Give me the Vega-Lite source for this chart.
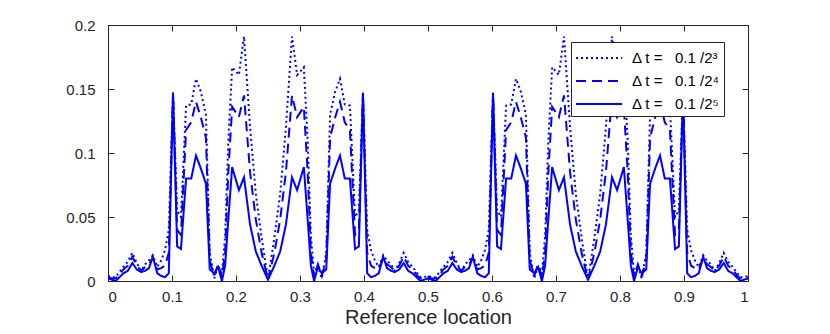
{
 "$schema": "https://vega.github.io/schema/vega-lite/v6.json",
 "width": 640, "height": 256,
 "autosize": {"type": "none"},
 "padding": {"left": 108, "top": 25, "right": 82, "bottom": 53},
 "background": "white",
 "config": {
  "view": {"stroke": "#262626", "strokeWidth": 1},
  "axis": {"labelFont": "Liberation Sans", "titleFont": "Liberation Sans", "labelFontSize": 15, "labelColor": "#262626", "titleColor": "#262626", "domainColor": "#262626", "tickColor": "#262626", "grid": false, "tickSize": -6, "titleFontWeight": "normal"}
 },
 "data": {"values": [
  {"x":0.000,"dt5":0.002,"dt4":0.003,"dt3":0.004},
  {"x":0.006,"dt5":0.001,"dt4":0.002,"dt3":0.003},
  {"x":0.012,"dt5":0.000,"dt4":0.002,"dt3":0.003},
  {"x":0.018,"dt5":0.003,"dt4":0.005,"dt3":0.007},
  {"x":0.024,"dt5":0.006,"dt4":0.009,"dt3":0.011},
  {"x":0.031,"dt5":0.008,"dt4":0.012,"dt3":0.015},
  {"x":0.038,"dt5":0.014,"dt4":0.019,"dt3":0.022},
  {"x":0.045,"dt5":0.009,"dt4":0.012,"dt3":0.014},
  {"x":0.052,"dt5":0.007,"dt4":0.008,"dt3":0.008},
  {"x":0.058,"dt5":0.008,"dt4":0.011,"dt3":0.013},
  {"x":0.064,"dt5":0.010,"dt4":0.013,"dt3":0.016},
  {"x":0.070,"dt5":0.019,"dt4":0.018,"dt3":0.020},
  {"x":0.077,"dt5":0.006,"dt4":0.009,"dt3":0.011},
  {"x":0.083,"dt5":0.004,"dt4":0.010,"dt3":0.016},
  {"x":0.089,"dt5":0.003,"dt4":0.012,"dt3":0.024},
  {"x":0.095,"dt5":0.006,"dt4":0.022,"dt3":0.040},
  {"x":0.1016,"dt5":0.147,"dt4":0.147,"dt3":0.147},
  {"x":0.108,"dt5":0.027,"dt4":0.040,"dt3":0.055},
  {"x":0.114,"dt5":0.025,"dt4":0.036,"dt3":0.050},
  {"x":0.122,"dt5":0.080,"dt4":0.118,"dt3":0.137},
  {"x":0.130,"dt5":0.080,"dt4":0.124,"dt3":0.138},
  {"x":0.1375,"dt5":0.098,"dt4":0.140,"dt3":0.158},
  {"x":0.145,"dt5":0.088,"dt4":0.128,"dt3":0.148},
  {"x":0.153,"dt5":0.076,"dt4":0.112,"dt3":0.130},
  {"x":0.159,"dt5":0.009,"dt4":0.016,"dt3":0.022},
  {"x":0.166,"dt5":0.006,"dt4":0.004,"dt3":0.002},
  {"x":0.172,"dt5":0.011,"dt4":0.013,"dt3":0.012},
  {"x":0.178,"dt5":0.000,"dt4":0.003,"dt3":0.006},
  {"x":0.183,"dt5":0.012,"dt4":0.022,"dt3":0.035},
  {"x":0.188,"dt5":0.048,"dt4":0.085,"dt3":0.110},
  {"x":0.194,"dt5":0.089,"dt4":0.136,"dt3":0.167},
  {"x":0.2045,"dt5":0.071,"dt4":0.128,"dt3":0.161},
  {"x":0.2125,"dt5":0.081,"dt4":0.145,"dt3":0.191},
  {"x":0.222,"dt5":0.044,"dt4":0.085,"dt3":0.120},
  {"x":0.231,"dt5":0.023,"dt4":0.048,"dt3":0.068},
  {"x":0.240,"dt5":0.012,"dt4":0.022,"dt3":0.034},
  {"x":0.250,"dt5":0.001,"dt4":0.001,"dt3":0.001},
  {"x":0.260,"dt5":0.012,"dt4":0.022,"dt3":0.034},
  {"x":0.269,"dt5":0.023,"dt4":0.048,"dt3":0.068},
  {"x":0.278,"dt5":0.044,"dt4":0.085,"dt3":0.120},
  {"x":0.2875,"dt5":0.081,"dt4":0.145,"dt3":0.191},
  {"x":0.2955,"dt5":0.071,"dt4":0.128,"dt3":0.161},
  {"x":0.306,"dt5":0.089,"dt4":0.136,"dt3":0.167},
  {"x":0.312,"dt5":0.048,"dt4":0.085,"dt3":0.110},
  {"x":0.317,"dt5":0.012,"dt4":0.022,"dt3":0.035},
  {"x":0.322,"dt5":0.000,"dt4":0.003,"dt3":0.006},
  {"x":0.328,"dt5":0.011,"dt4":0.013,"dt3":0.012},
  {"x":0.334,"dt5":0.006,"dt4":0.004,"dt3":0.002},
  {"x":0.341,"dt5":0.009,"dt4":0.016,"dt3":0.022},
  {"x":0.347,"dt5":0.076,"dt4":0.112,"dt3":0.130},
  {"x":0.355,"dt5":0.088,"dt4":0.128,"dt3":0.148},
  {"x":0.3625,"dt5":0.098,"dt4":0.140,"dt3":0.158},
  {"x":0.370,"dt5":0.080,"dt4":0.124,"dt3":0.138},
  {"x":0.378,"dt5":0.080,"dt4":0.118,"dt3":0.137},
  {"x":0.386,"dt5":0.025,"dt4":0.036,"dt3":0.050},
  {"x":0.392,"dt5":0.027,"dt4":0.040,"dt3":0.055},
  {"x":0.3984,"dt5":0.147,"dt4":0.147,"dt3":0.147},
  {"x":0.405,"dt5":0.006,"dt4":0.022,"dt3":0.040},
  {"x":0.411,"dt5":0.003,"dt4":0.012,"dt3":0.024},
  {"x":0.417,"dt5":0.004,"dt4":0.010,"dt3":0.016},
  {"x":0.423,"dt5":0.006,"dt4":0.009,"dt3":0.011},
  {"x":0.430,"dt5":0.019,"dt4":0.018,"dt3":0.020},
  {"x":0.436,"dt5":0.010,"dt4":0.013,"dt3":0.016},
  {"x":0.442,"dt5":0.008,"dt4":0.011,"dt3":0.013},
  {"x":0.448,"dt5":0.007,"dt4":0.008,"dt3":0.008},
  {"x":0.455,"dt5":0.009,"dt4":0.012,"dt3":0.014},
  {"x":0.462,"dt5":0.014,"dt4":0.019,"dt3":0.022},
  {"x":0.469,"dt5":0.008,"dt4":0.012,"dt3":0.015},
  {"x":0.476,"dt5":0.006,"dt4":0.009,"dt3":0.011},
  {"x":0.482,"dt5":0.003,"dt4":0.005,"dt3":0.007},
  {"x":0.488,"dt5":0.000,"dt4":0.002,"dt3":0.003},
  {"x":0.494,"dt5":0.001,"dt4":0.002,"dt3":0.003},
  {"x":0.500,"dt5":0.002,"dt4":0.003,"dt3":0.004},
  {"x":0.506,"dt5":0.001,"dt4":0.002,"dt3":0.003},
  {"x":0.512,"dt5":0.000,"dt4":0.002,"dt3":0.003},
  {"x":0.518,"dt5":0.003,"dt4":0.005,"dt3":0.007},
  {"x":0.524,"dt5":0.006,"dt4":0.009,"dt3":0.011},
  {"x":0.531,"dt5":0.008,"dt4":0.012,"dt3":0.015},
  {"x":0.538,"dt5":0.014,"dt4":0.019,"dt3":0.022},
  {"x":0.545,"dt5":0.009,"dt4":0.012,"dt3":0.014},
  {"x":0.552,"dt5":0.007,"dt4":0.008,"dt3":0.008},
  {"x":0.558,"dt5":0.008,"dt4":0.011,"dt3":0.013},
  {"x":0.564,"dt5":0.010,"dt4":0.013,"dt3":0.016},
  {"x":0.570,"dt5":0.019,"dt4":0.018,"dt3":0.020},
  {"x":0.577,"dt5":0.006,"dt4":0.009,"dt3":0.011},
  {"x":0.583,"dt5":0.004,"dt4":0.010,"dt3":0.016},
  {"x":0.589,"dt5":0.003,"dt4":0.012,"dt3":0.024},
  {"x":0.595,"dt5":0.006,"dt4":0.022,"dt3":0.040},
  {"x":0.6016,"dt5":0.147,"dt4":0.147,"dt3":0.147},
  {"x":0.608,"dt5":0.027,"dt4":0.040,"dt3":0.055},
  {"x":0.614,"dt5":0.025,"dt4":0.036,"dt3":0.050},
  {"x":0.622,"dt5":0.080,"dt4":0.118,"dt3":0.137},
  {"x":0.630,"dt5":0.080,"dt4":0.124,"dt3":0.138},
  {"x":0.6375,"dt5":0.098,"dt4":0.140,"dt3":0.158},
  {"x":0.645,"dt5":0.088,"dt4":0.128,"dt3":0.148},
  {"x":0.653,"dt5":0.076,"dt4":0.112,"dt3":0.130},
  {"x":0.659,"dt5":0.009,"dt4":0.016,"dt3":0.022},
  {"x":0.666,"dt5":0.006,"dt4":0.004,"dt3":0.002},
  {"x":0.672,"dt5":0.011,"dt4":0.013,"dt3":0.012},
  {"x":0.678,"dt5":0.000,"dt4":0.003,"dt3":0.006},
  {"x":0.683,"dt5":0.012,"dt4":0.022,"dt3":0.035},
  {"x":0.688,"dt5":0.048,"dt4":0.085,"dt3":0.110},
  {"x":0.694,"dt5":0.089,"dt4":0.136,"dt3":0.167},
  {"x":0.7045,"dt5":0.071,"dt4":0.128,"dt3":0.161},
  {"x":0.7125,"dt5":0.081,"dt4":0.145,"dt3":0.191},
  {"x":0.722,"dt5":0.044,"dt4":0.085,"dt3":0.120},
  {"x":0.731,"dt5":0.023,"dt4":0.048,"dt3":0.068},
  {"x":0.740,"dt5":0.012,"dt4":0.022,"dt3":0.034},
  {"x":0.750,"dt5":0.001,"dt4":0.001,"dt3":0.001},
  {"x":0.760,"dt5":0.012,"dt4":0.022,"dt3":0.034},
  {"x":0.769,"dt5":0.023,"dt4":0.048,"dt3":0.068},
  {"x":0.778,"dt5":0.044,"dt4":0.085,"dt3":0.120},
  {"x":0.7875,"dt5":0.081,"dt4":0.145,"dt3":0.191},
  {"x":0.7955,"dt5":0.071,"dt4":0.128,"dt3":0.161},
  {"x":0.806,"dt5":0.089,"dt4":0.136,"dt3":0.167},
  {"x":0.812,"dt5":0.048,"dt4":0.085,"dt3":0.110},
  {"x":0.817,"dt5":0.012,"dt4":0.022,"dt3":0.035},
  {"x":0.822,"dt5":0.000,"dt4":0.003,"dt3":0.006},
  {"x":0.828,"dt5":0.011,"dt4":0.013,"dt3":0.012},
  {"x":0.834,"dt5":0.006,"dt4":0.004,"dt3":0.002},
  {"x":0.841,"dt5":0.009,"dt4":0.016,"dt3":0.022},
  {"x":0.847,"dt5":0.076,"dt4":0.112,"dt3":0.130},
  {"x":0.855,"dt5":0.088,"dt4":0.128,"dt3":0.148},
  {"x":0.8625,"dt5":0.098,"dt4":0.140,"dt3":0.158},
  {"x":0.870,"dt5":0.080,"dt4":0.124,"dt3":0.138},
  {"x":0.878,"dt5":0.080,"dt4":0.118,"dt3":0.137},
  {"x":0.886,"dt5":0.025,"dt4":0.036,"dt3":0.050},
  {"x":0.892,"dt5":0.027,"dt4":0.040,"dt3":0.055},
  {"x":0.8984,"dt5":0.147,"dt4":0.147,"dt3":0.147},
  {"x":0.905,"dt5":0.006,"dt4":0.022,"dt3":0.040},
  {"x":0.911,"dt5":0.003,"dt4":0.012,"dt3":0.024},
  {"x":0.917,"dt5":0.004,"dt4":0.010,"dt3":0.016},
  {"x":0.923,"dt5":0.006,"dt4":0.009,"dt3":0.011},
  {"x":0.930,"dt5":0.019,"dt4":0.018,"dt3":0.020},
  {"x":0.936,"dt5":0.010,"dt4":0.013,"dt3":0.016},
  {"x":0.942,"dt5":0.008,"dt4":0.011,"dt3":0.013},
  {"x":0.948,"dt5":0.007,"dt4":0.008,"dt3":0.008},
  {"x":0.955,"dt5":0.009,"dt4":0.012,"dt3":0.014},
  {"x":0.962,"dt5":0.014,"dt4":0.019,"dt3":0.022},
  {"x":0.969,"dt5":0.008,"dt4":0.012,"dt3":0.015},
  {"x":0.976,"dt5":0.006,"dt4":0.009,"dt3":0.011},
  {"x":0.982,"dt5":0.003,"dt4":0.005,"dt3":0.007},
  {"x":0.988,"dt5":0.000,"dt4":0.002,"dt3":0.003},
  {"x":0.994,"dt5":0.001,"dt4":0.002,"dt3":0.003},
  {"x":1.000,"dt5":0.002,"dt4":0.003,"dt3":0.004}
 ]},
 "transform": [{"fold": ["dt3", "dt4", "dt5"], "as": ["series", "err"]}],
 "layer": [
  {
   "mark": {"type": "line", "color": "#0000ff", "strokeWidth": 2, "clip": true},
   "encoding": {
    "x": {"field": "x", "type": "quantitative", "scale": {"domain": [0, 1], "nice": false},
          "axis": {"orient": "bottom", "values": [0,0.1,0.2,0.3,0.4,0.5,0.6,0.7,0.8,0.9,1], "format": "~g", "labelPadding": 14, "title": "Reference location", "titleFontSize": 20, "titlePadding": 3}},
    "y": {"field": "err", "type": "quantitative", "scale": {"domain": [0, 0.2], "nice": false},
          "axis": {"orient": "left", "values": [0,0.05,0.1,0.15,0.2], "format": "~g", "labelPadding": 19, "title": null}},
    "strokeDash": {"field": "series", "type": "nominal",
          "scale": {"domain": ["dt3", "dt4", "dt5"], "range": [[2,3],[10,6],[1,0]]},
          "legend": {"title": null, "orient": "none", "legendX": 463, "legendY": 17,
                     "fillColor": "white", "strokeColor": "#262626", "padding": 4,
                     "symbolType": "M-1,0H3.2", "symbolSize": 484, "symbolStrokeWidth": 2, "symbolStrokeColor": "#0000ff", "symbolFillColor": "transparent",
                     "labelFont": "Liberation Sans", "labelFontSize": 15, "labelColor": "#000000", "rowPadding": 3, "labelOffset": 33,
                     "labelExpr": "datum.label == 'dt3' ? 'Δ t =\u00a0\u00a0 0.1 /2³\u00a0\u00a0\u00a0' : datum.label == 'dt4' ? 'Δ t =\u00a0\u00a0 0.1 /2⁴\u00a0\u00a0\u00a0' : 'Δ t =\u00a0\u00a0 0.1 /2⁵\u00a0\u00a0\u00a0'"}}
   }
  },
  {
   "mark": {"type": "point", "opacity": 0},
   "encoding": {
    "x": {"field": "x", "type": "quantitative", "axis": {"orient": "top", "labels": false, "title": null, "values": [0,0.1,0.2,0.3,0.4,0.5,0.6,0.7,0.8,0.9,1]}},
    "y": {"field": "err", "type": "quantitative", "axis": {"orient": "right", "labels": false, "title": null, "values": [0,0.05,0.1,0.15,0.2]}}
   }
  }
 ],
 "resolve": {"axis": {"x": "independent", "y": "independent"}}
}
